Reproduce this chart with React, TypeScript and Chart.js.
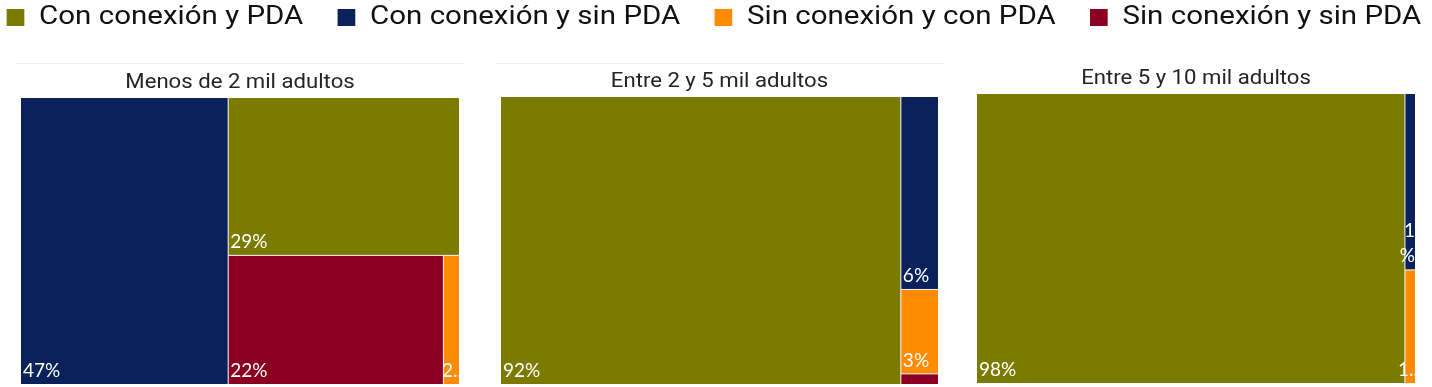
import React, { useEffect, useRef } from 'react';
import { Chart, registerables } from 'chart.js';

Chart.register(...registerables);

// ---- data ----
const categories = [
  'Con conexión y PDA',
  'Con conexión y sin PDA',
  'Sin conexión y con PDA',
  'Sin conexión y sin PDA',
];
const categoryColors = ['#7B7B00', '#0A215C', '#FF8C00', '#8B0020'];
const panelTitles = ['Menos de 2 mil adultos', 'Entre 2 y 5 mil adultos', 'Entre 5 y 10 mil adultos'];
const menosDe2Mil = [29.0, 47.3, 1.6, 22.1];
const entre2y5Mil = [91.5, 5.7, 2.5, 0.3];
const entre5y10Mil = [97.7, 1.4, 0.9, 0];
const panelValues = [menosDe2Mil, entre2y5Mil, entre5y10Mil];

// ---- layout (positions / styles) ----
const panelLayout = [
  { left: 16, top: 63, width: 447, height: 324, pad: { left: 5, right: 4, top: 0, bottom: 3 }, titlePad: { top: 8, bottom: 3 }, rule: true },
  { left: 496, top: 63, width: 447, height: 324, pad: { left: 5, right: 5, top: 0, bottom: 3 }, titlePad: { top: 7, bottom: 3 }, rule: true },
  { left: 972, top: 60, width: 447, height: 327, pad: { left: 5, right: 4, top: 0, bottom: 4 }, titlePad: { top: 7, bottom: 3 }, rule: false },
];
const LEGEND_STRETCH = 1.18;
const TITLE_STRETCH = 1.107;

type Rect = { i: number; v: number; x0: number; y0: number; x1: number; y1: number };

function worst(row: number[], side: number) {
  const s = row.reduce((a, b) => a + b, 0);
  let w = 0;
  for (const r of row) {
    w = Math.max(w, (side * side * r) / (s * s), (s * s) / (side * side * r));
  }
  return w;
}

// squarified treemap in units where width = 1 and height = aspect
function squarify(values: number[], aspect: number): Rect[] {
  const total = values.reduce((a, b) => a + b, 0);
  const area = 1 * aspect;
  let items = values
    .map((v, i) => ({ i, v, a: (v / total) * area }))
    .filter((d) => d.v > 0)
    .sort((p, q) => q.v - p.v);
  let x = 0, y = 0, w = 1, h = aspect;
  const out: Rect[] = [];
  while (items.length) {
    const side = Math.min(w, h);
    const row = [items[0]];
    let k = 1;
    while (
      k < items.length &&
      worst(row.concat(items[k]).map((d) => d.a), side) <= worst(row.map((d) => d.a), side)
    ) {
      row.push(items[k]);
      k++;
    }
    items = items.slice(k);
    const sum = row.reduce((s, d) => s + d.a, 0);
    if (w >= h) {
      const cw = sum / h;
      let cy = y;
      for (const d of row) {
        const rh = d.a / cw;
        out.push({ i: d.i, v: d.v, x0: x, y0: cy, x1: x + cw, y1: cy + rh });
        cy += rh;
      }
      x += cw;
      w -= cw;
    } else {
      const rh = sum / w;
      let cx = x;
      for (const d of row) {
        const rw = d.a / rh;
        out.push({ i: d.i, v: d.v, x0: cx, y0: y, x1: cx + rw, y1: y + rh });
        cx += rw;
      }
      y += rh;
      h -= rh;
    }
  }
  return out;
}

const topRulePlugin = {
  id: 'topRule',
  beforeDraw(chart: any, _args: any, opts: any) {
    if (!opts || !opts.show) return;
    const { ctx, width } = chart;
    ctx.save();
    ctx.strokeStyle = '#EFEFEF';
    ctx.lineWidth = 1;
    ctx.beginPath();
    ctx.moveTo(0, 0.5);
    ctx.lineTo(width, 0.5);
    ctx.stroke();
    ctx.restore();
  },
};

// horizontal stretch of the text layers drawn by Chart.js (title)
const titleStretchPlugin = {
  id: 'titleStretch',
  beforeDraw(chart: any, _a: any, opts: any) {
    const s = (opts && opts.factor) || 1;
    const cx = (chart.chartArea.left + chart.chartArea.right) / 2;
    chart.ctx.save();
    chart.ctx.translate(cx, 0);
    chart.ctx.scale(s, 1);
    chart.ctx.translate(-cx, 0);
  },
  beforeDatasetsDraw(chart: any) {
    chart.ctx.restore();
  },
};

const legendStretchPlugin = {
  id: 'legendStretch',
  beforeDraw(chart: any, _a: any, opts: any) {
    const s = (opts && opts.factor) || 1;
    const cx = chart.width / 2;
    chart.ctx.save();
    chart.ctx.translate(cx, 0);
    chart.ctx.scale(s, 1);
    chart.ctx.translate(-cx, 0);
  },
  afterDraw(chart: any) {
    chart.ctx.restore();
  },
};

const treemapPlugin = {
  id: 'treemap',
  afterDatasetsDraw(chart: any, _args: any, opts: any) {
    const { ctx, chartArea: a, scales } = chart;
    const xs = scales.x;
    const ys = scales.y;
    const values: number[] = opts.values;
    const aspect = (a.bottom - a.top) / (a.right - a.left);
    const rects = squarify(values, aspect);
    const px = rects.map((r) => ({
      r,
      x0: xs.getPixelForValue(r.x0),
      x1: xs.getPixelForValue(r.x1),
      y0: ys.getPixelForValue(r.y0 / aspect),
      y1: ys.getPixelForValue(r.y1 / aspect),
    }));
    ctx.save();
    for (const p of px) {
      ctx.fillStyle = categoryColors[p.r.i];
      ctx.fillRect(p.x0, p.y0, p.x1 - p.x0, p.y1 - p.y0);
    }
    ctx.strokeStyle = '#F4F4F4';
    ctx.lineWidth = 1;
    for (const p of px) {
      ctx.beginPath();
      if (p.r.x0 > 1e-9) {
        ctx.moveTo(p.x0, p.y0);
        ctx.lineTo(p.x0, p.y1);
      }
      if (p.r.y0 > 1e-9) {
        ctx.moveTo(p.x0, p.y0);
        ctx.lineTo(p.x1, p.y0);
      }
      ctx.stroke();
    }
    // labels
    ctx.beginPath();
    ctx.rect(a.left, a.top, a.right - a.left, a.bottom - a.top);
    ctx.clip();
    ctx.font = '19px Lato';
    ctx.fillStyle = '#FFFFFF';
    ctx.textBaseline = 'alphabetic';
    for (const p of px) {
      const cw = p.x1 - p.x0;
      const ch = p.y1 - p.y0;
      if (ch < 20) continue;
      const text = Math.round(p.r.v) + '%';
      const tw = ctx.measureText(text).width;
      if (tw + 4 <= cw) {
        ctx.textAlign = 'left';
        ctx.fillText(text, p.x0 + 2, p.y1 - 7);
      } else if (ch >= 150) {
        const chars = text.split('');
        ctx.textAlign = 'right';
        chars.forEach((c, k) => {
          ctx.fillText(c, p.x1, p.y1 - 8 - (chars.length - 1 - k) * 25);
        });
      } else {
        ctx.textAlign = 'right';
        ctx.fillText(text[0] + '..', p.x1 + 3, p.y1 - 7);
      }
    }
    ctx.restore();
  },
};

function makePanelConfig(idx: number): any {
  const L = panelLayout[idx];
  return {
    type: 'scatter',
    data: {
      datasets: categories.map((c, i) => ({
        label: c,
        data: [],
        backgroundColor: categoryColors[i],
        pointRadius: 0,
      })),
    },
    options: {
      responsive: false,
      animation: false,
      events: [],
      layout: { padding: L.pad },
      scales: {
        x: { type: 'linear', min: 0, max: 1, display: false },
        y: { type: 'linear', min: 0, max: 1, reverse: true, display: false },
      },
      plugins: {
        legend: { display: false },
        tooltip: { enabled: false },
        title: {
          display: true,
          text: panelTitles[idx],
          color: '#252423',
          font: { family: 'Roboto', size: 20, weight: 'normal', lineHeight: 1.2 },
          padding: L.titlePad,
        },
        titleStretch: { factor: TITLE_STRETCH },
        treemap: { values: panelValues[idx] },
        topRule: { show: L.rule },
      },
    },
    plugins: [topRulePlugin, titleStretchPlugin, treemapPlugin],
  };
}

function makeLegendConfig(): any {
  return {
    type: 'bar',
    data: {
      labels: [],
      datasets: categories.map((c, i) => ({
        label: c,
        data: [],
        backgroundColor: categoryColors[i],
        borderWidth: 0,
      })),
    },
    options: {
      responsive: false,
      animation: false,
      events: [],
      layout: { padding: 0 },
      scales: { x: { display: false }, y: { display: false } },
      plugins: {
        tooltip: { enabled: false },
        legendStretch: { factor: LEGEND_STRETCH },
        legend: {
          display: true,
          position: 'top',
          align: 'center',
          labels: {
            boxWidth: 15,
            boxHeight: 17,
            padding: 29,
            color: '#111111',
            font: { family: 'Roboto', size: 25, weight: 'normal' },
          },
        },
      },
    },
    plugins: [legendStretchPlugin],
  };
}

function ChartCanvas(props: { make: () => any; left: number; top: number; width: number; height: number }) {
  const ref = useRef<HTMLCanvasElement | null>(null);
  useEffect(() => {
    if (!ref.current) return;
    const chart = new Chart(ref.current, props.make());
    return () => chart.destroy();
  }, []);
  return (
    <canvas
      ref={ref}
      width={props.width}
      height={props.height}
      style={{
        position: 'absolute',
        left: props.left,
        top: props.top,
        width: props.width,
        height: props.height,
        display: 'block',
      }}
    />
  );
}

export default function App() {
  return (
    <div
      style={{
        position: 'fixed',
        left: 0,
        top: 0,
        width: 1432,
        height: 387,
        overflow: 'hidden',
        background: '#FFFFFF',
      }}
    >
      {panelLayout.map((L, idx) => (
        <ChartCanvas key={idx} make={() => makePanelConfig(idx)} left={L.left} top={L.top} width={L.width} height={L.height} />
      ))}
      <ChartCanvas make={makeLegendConfig} left={-66} top={-24} width={1560} height={160} />
    </div>
  );
}
